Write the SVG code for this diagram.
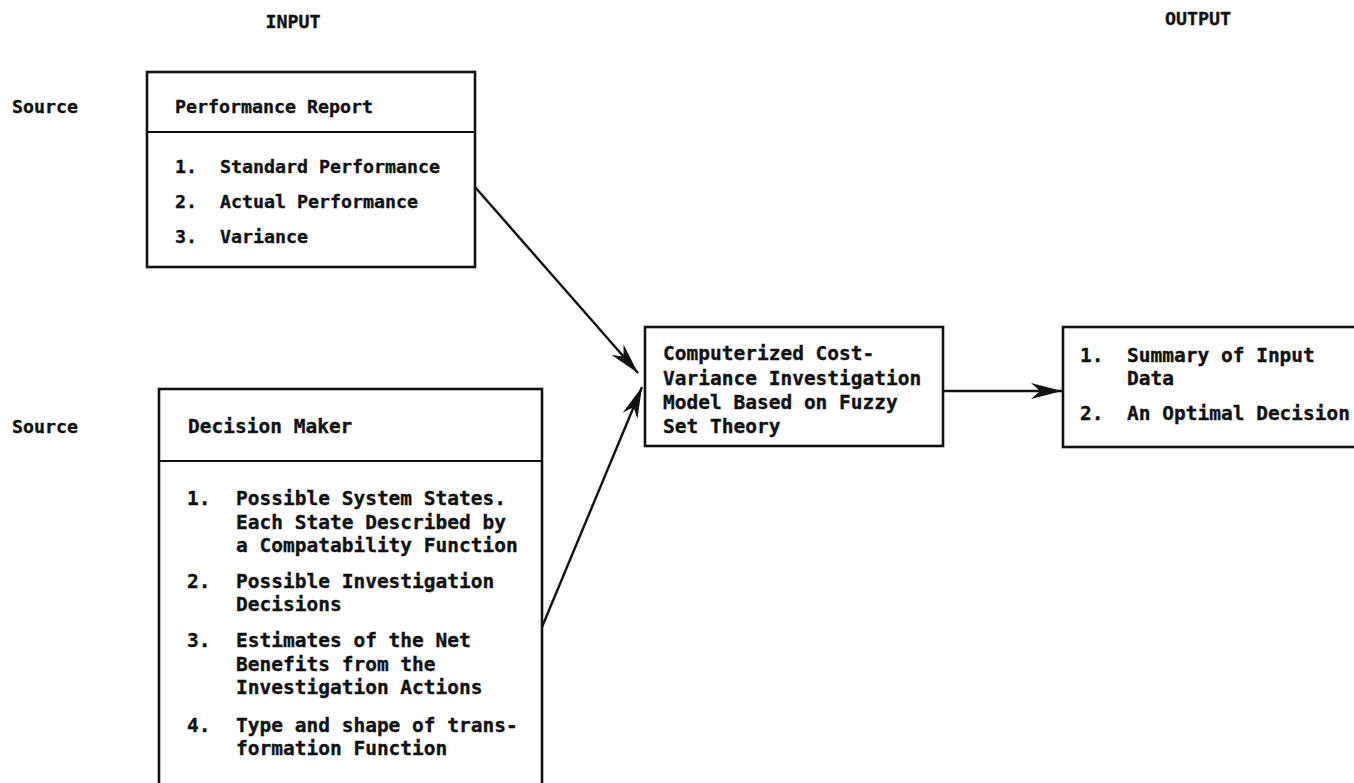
<svg xmlns="http://www.w3.org/2000/svg" width="1354" height="783" viewBox="0 0 1354 783">
<style>
text{font-family:"DejaVu Sans Mono","Liberation Mono",monospace;font-weight:bold;fill:#111;stroke:#111;stroke-width:0.35;}
.s{font-size:18.3px;}
.m{font-size:19.5px;}
.box{fill:none;stroke:#111;stroke-width:2.6;}
.div{stroke:#111;stroke-width:2;}
.con{stroke:#111;stroke-width:2.4;fill:none;}
</style>
<defs>
<marker id="ah" markerUnits="userSpaceOnUse" markerWidth="34" markerHeight="18" refX="31" refY="8" orient="auto" viewBox="0 0 34 18">
<path d="M0,0 L31,8 L0,16 L9,8 Z" fill="#111"/>
</marker>
</defs>
<g id="labels">
<text class="s" x="293" y="28" text-anchor="middle">INPUT</text>
<text class="s" x="1198" y="25" text-anchor="middle">OUTPUT</text>
<text class="s" x="12" y="113">Source</text>
<text class="s" x="12" y="433">Source</text>
</g>
<g id="node-performance-report">
<rect class="box" x="147" y="72" width="328" height="195"/>
<line class="div" x1="147" y1="132" x2="475" y2="132"/>
<text class="s" x="175" y="113">Performance Report</text>
<text class="s" x="175" y="173">1.</text><text class="s" x="220" y="173">Standard Performance</text>
<text class="s" x="175" y="208">2.</text><text class="s" x="220" y="208">Actual Performance</text>
<text class="s" x="175" y="243">3.</text><text class="s" x="220" y="243">Variance</text>
</g>
<g id="node-decision-maker">
<rect class="box" x="159" y="389" width="383" height="420"/>
<line class="div" x1="159" y1="461" x2="542" y2="461"/>
<text class="m" x="188" y="433">Decision Maker</text>
<text class="m" x="187" y="505">1.</text>
<text class="m" x="236" y="505">Possible System States.</text>
<text class="m" x="236" y="529">Each State Described by</text>
<text class="m" x="236" y="552">a Compatability Function</text>
<text class="m" x="187" y="588">2.</text>
<text class="m" x="236" y="588">Possible Investigation</text>
<text class="m" x="236" y="611">Decisions</text>
<text class="m" x="187" y="647">3.</text>
<text class="m" x="236" y="647">Estimates of the Net</text>
<text class="m" x="236" y="671">Benefits from the</text>
<text class="m" x="236" y="694">Investigation Actions</text>
<text class="m" x="187" y="732">4.</text>
<text class="m" x="236" y="732">Type and shape of trans-</text>
<text class="m" x="236" y="755">formation Function</text>
</g>
<g id="node-model">
<rect class="box" x="645" y="327" width="298" height="119"/>
<text class="m" x="663" y="360">Computerized Cost-</text>
<text class="m" x="663" y="385">Variance Investigation</text>
<text class="m" x="663" y="409">Model Based on Fuzzy</text>
<text class="m" x="663" y="433">Set Theory</text>
</g>
<g id="node-output">
<rect class="box" x="1063" y="327" width="320" height="120"/>
<text class="m" x="1080" y="362">1.</text>
<text class="m" x="1127" y="362">Summary of Input</text>
<text class="m" x="1127" y="385">Data</text>
<text class="m" x="1080" y="420">2.</text>
<text class="m" x="1127" y="420">An Optimal Decision</text>
</g>
<g id="connectors">
<line class="con" x1="475" y1="187" x2="638" y2="373" marker-end="url(#ah)"/>
<line class="con" x1="542" y1="627" x2="642" y2="387" marker-end="url(#ah)"/>
<line class="con" x1="943" y1="391" x2="1062" y2="391" marker-end="url(#ah)"/>
</g>
</svg>
